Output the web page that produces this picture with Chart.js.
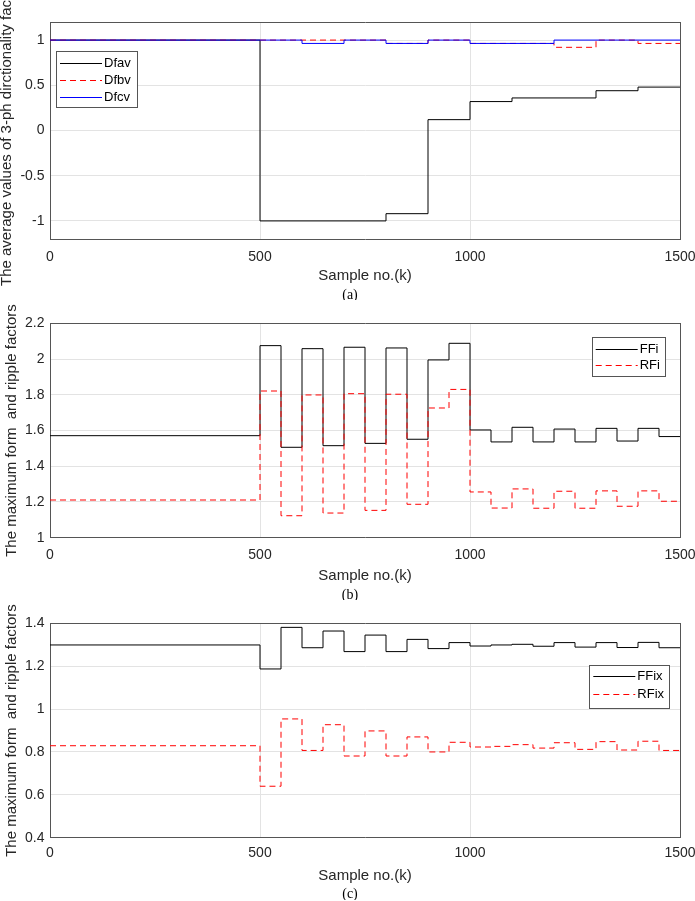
<!DOCTYPE html>
<html>
<head>
<meta charset="utf-8">
<script src="https://cdn.jsdelivr.net/npm/chart.js@4.4.1/dist/chart.umd.min.js"></script>
<style>
  body { margin: 0; background: #fff; width: 695px; height: 901px; overflow: hidden; position: relative; }
  canvas { position: absolute; left: 0; }
</style>
</head>
<body>
<canvas id="chartA" width="695" height="300" style="top:0px"></canvas>
<canvas id="chartB" width="695" height="300" style="top:300px"></canvas>
<canvas id="chartC" width="695" height="300" style="top:600px"></canvas>
<script>
// (a) average directionality factors, one step every 100 samples
var sampleA = [0, 500, 600, 700, 800, 900, 1000, 1100, 1200, 1300, 1400, 1500];
var dfav = [1, -1, -1, -1, -0.92, 0.12, 0.32, 0.36, 0.36, 0.44, 0.48, 0.48];
var dfbv = [1, 1, 1, 1, 0.963, 1, 0.963, 0.963, 0.92, 1, 0.963, 0.963];
var dfcv = [1, 1, 0.963, 1, 0.963, 1, 0.963, 0.963, 1, 1, 1, 1];
var yTicksA = [-1, -0.5, 0, 0.5, 1];

// (b) and (c) form / ripple factors, one step every 50 samples after k=500
var sampleB = [0, 500, 550, 600, 650, 700, 750, 800, 850, 900, 950, 1000,
               1050, 1100, 1150, 1200, 1250, 1300, 1350, 1400, 1450, 1500];
var ffi = [1.571, 2.075, 1.506, 2.058, 1.515, 2.066, 1.528, 2.062, 1.551, 1.995, 2.088, 1.603,
           1.536, 1.618, 1.536, 1.608, 1.536, 1.612, 1.541, 1.612, 1.566, 1.566];
var rfi = [1.211, 1.821, 1.123, 1.799, 1.138, 1.806, 1.153, 1.803, 1.187, 1.726, 1.830, 1.256,
           1.166, 1.273, 1.165, 1.260, 1.165, 1.262, 1.176, 1.262, 1.204, 1.204];
var yTicksB = [1, 1.2, 1.4, 1.6, 1.8, 2, 2.2];

var ffix = [1.299, 1.187, 1.381, 1.286, 1.364, 1.268, 1.345, 1.268, 1.325, 1.282, 1.310, 1.294,
            1.299, 1.302, 1.293, 1.310, 1.289, 1.310, 1.287, 1.311, 1.286, 1.286];
var rfix = [0.829, 0.640, 0.954, 0.807, 0.927, 0.781, 0.898, 0.781, 0.870, 0.800, 0.845, 0.823,
            0.826, 0.834, 0.818, 0.843, 0.812, 0.848, 0.809, 0.850, 0.807, 0.807];
var yTicksC = [0.4, 0.6, 0.8, 1, 1.2, 1.4];
var xTicks = [0, 500, 1000, 1500];

Chart.defaults.font.family = "'Liberation Sans', Arial, sans-serif";

var axisColor = '#555555';
var gridColor = '#e3e3e3';
var textColor = '#262626';

function toPoints(xs, ys) {
  var pts = [];
  for (var i = 0; i < xs.length; i++) {
    pts.push({x: xs[i], y: ys[i]});
  }
  return pts;
}

// matlab style boxed legend inside the axes
var boxLegend = {
  id: 'boxLegend',
  afterDatasetsDraw: function(chart, args, o) {
    var ctx = chart.ctx;
    ctx.save();
    ctx.fillStyle = '#fff';
    ctx.fillRect(o.x, o.y, o.w, o.h);
    ctx.strokeStyle = axisColor;
    ctx.lineWidth = 1;
    ctx.strokeRect(Math.round(o.x) + 0.5, Math.round(o.y) + 0.5, Math.round(o.w), Math.round(o.h));
    chart.data.datasets.forEach(function(ds, i) {
      var y = Math.round(o.y + o.first + i * o.gap) + 0.5;
      ctx.strokeStyle = ds.borderColor;
      ctx.lineWidth = ds.borderWidth;
      ctx.setLineDash(ds.borderDash || []);
      ctx.beginPath();
      ctx.moveTo(o.x + 4, y);
      ctx.lineTo(o.x + 46, y);
      ctx.stroke();
      ctx.setLineDash([]);
      ctx.fillStyle = '#000';
      ctx.font = "13px 'Liberation Sans', Arial, sans-serif";
      ctx.textAlign = 'left';
      ctx.textBaseline = 'middle';
      ctx.fillText(ds.label, o.x + 48, y);
    });
    ctx.restore();
  }
};

// the (a) (b) (c) captions under each panel
var caption = {
  id: 'caption',
  afterDraw: function(chart, args, o) {
    var ctx = chart.ctx;
    ctx.save();
    ctx.fillStyle = '#000';
    ctx.font = "14px 'Liberation Serif', 'Times New Roman', serif";
    ctx.textAlign = 'center';
    ctx.textBaseline = 'middle';
    ctx.fillText(o.text, o.x, o.y);
    ctx.restore();
  }
};

function makePanel(id, datasets, p) {
  var ctx = document.getElementById(id).getContext('2d');
  return new Chart(ctx, {
    type: 'line',
    data: { datasets: datasets },
    plugins: [boxLegend, caption],
    options: {
      responsive: false,
      animation: false,
      devicePixelRatio: 1,
      layout: { padding: { top: p.top, left: 0, right: 15, bottom: 0 } },
      elements: { point: { radius: 0 }, line: { tension: 0 } },
      plugins: {
        legend: { display: false },
        tooltip: { enabled: false },
        boxLegend: p.legend,
        caption: p.caption
      },
      scales: {
        x: {
          type: 'linear',
          min: 0,
          max: 1500,
          afterBuildTicks: function(s) {
            s.ticks = xTicks.map(function(v) { return {value: v}; });
          },
          afterFit: function(s) {
            s.height = 300 - p.bottom;
            s.paddingLeft = 0;
            s.paddingRight = 0;
          },
          ticks: {
            padding: p.tickPad,
            color: textColor,
            font: { size: 14 },
            callback: function(val) { return String(val); }
          },
          grid: { color: gridColor, drawTicks: false },
          border: { color: axisColor },
          title: {
            display: true,
            text: 'Sample no.(k)',
            color: textColor,
            font: { size: 15 },
            padding: { top: 0, bottom: 15 }
          }
        },
        y: {
          type: 'linear',
          min: p.yMin,
          max: p.yMax,
          afterBuildTicks: function(s) {
            s.ticks = p.yTicks.map(function(v) { return {value: v}; });
          },
          afterFit: function(s) { s.width = 50; },
          ticks: {
            padding: 5.5,
            color: textColor,
            font: { size: 14 },
            callback: function(val) { return String(val); }
          },
          grid: { color: gridColor, drawTicks: false },
          border: { color: axisColor },
          title: {
            display: true,
            text: p.yTitle,
            color: textColor,
            font: { size: 15, lineHeight: 0.9 },
            padding: { top: p.titleOff, bottom: 0 }
          }
        },
        // top and right edges of the box
        xt: {
          type: 'linear', position: 'top', min: 0, max: 1500,
          ticks: { display: false },
          grid: { drawOnChartArea: false, drawTicks: false },
          border: { color: axisColor }
        },
        yr: {
          type: 'linear', position: 'right', min: p.yMin, max: p.yMax,
          ticks: { display: false },
          grid: { drawOnChartArea: false, drawTicks: false },
          border: { color: axisColor }
        }
      }
    }
  });
}

var chartA = makePanel('chartA', [{
  label: 'Dfav', data: toPoints(sampleA, dfav), stepped: true,
  borderColor: '#000000', borderWidth: 1, fill: false, order: 3
}, {
  label: 'Dfbv', data: toPoints(sampleA, dfbv), stepped: true,
  borderColor: '#ff0000', borderWidth: 1, borderDash: [6, 4], fill: false, order: 2
}, {
  label: 'Dfcv', data: toPoints(sampleA, dfcv), stepped: true,
  borderColor: '#0000ff', borderWidth: 1, fill: false, order: 1
}], {
  top: 22, bottom: 239, tickPad: 9.3, yMin: -1.2, yMax: 1.2, yTicks: yTicksA, titleOff: 0,
  yTitle: 'The average values of 3-ph dirctionality factors',
  legend: { x: 56, y: 51, w: 81, h: 56, first: 11.7, gap: 17.3 },
  caption: { text: '(a)', x: 350, y: 295 }
});

var chartB = makePanel('chartB', [{
  label: 'FFi', data: toPoints(sampleB, ffi), stepped: true,
  borderColor: '#000000', borderWidth: 1, fill: false, order: 2
}, {
  label: 'RFi', data: toPoints(sampleB, rfi), stepped: true,
  borderColor: '#ff0000', borderWidth: 1, borderDash: [6, 4], fill: false, order: 1
}], {
  top: 23.3, bottom: 237.7, tickPad: 9, yMin: 1, yMax: 2.2, yTicks: yTicksB, titleOff: 5.25,
  yTitle: 'The maximum form  and ripple factors',
  legend: { x: 591.7, y: 36.7, w: 73.3, h: 39, first: 12, gap: 16 },
  caption: { text: '(b)', x: 350, y: 295 }
});

var chartC = makePanel('chartC', [{
  label: 'FFix', data: toPoints(sampleB, ffix), stepped: true,
  borderColor: '#000000', borderWidth: 1, fill: false, order: 2
}, {
  label: 'RFix', data: toPoints(sampleB, rfix), stepped: true,
  borderColor: '#ff0000', borderWidth: 1, borderDash: [6, 4], fill: false, order: 1
}], {
  top: 23.3, bottom: 237.7, tickPad: 7.5, yMin: 0.4, yMax: 1.4, yTicks: yTicksC, titleOff: 5.25,
  yTitle: 'The maximum form  and ripple factors',
  legend: { x: 589.3, y: 65, w: 80, h: 42.7, first: 11, gap: 18 },
  caption: { text: '(c)', x: 350, y: 294 }
});
</script>
</body>
</html>
